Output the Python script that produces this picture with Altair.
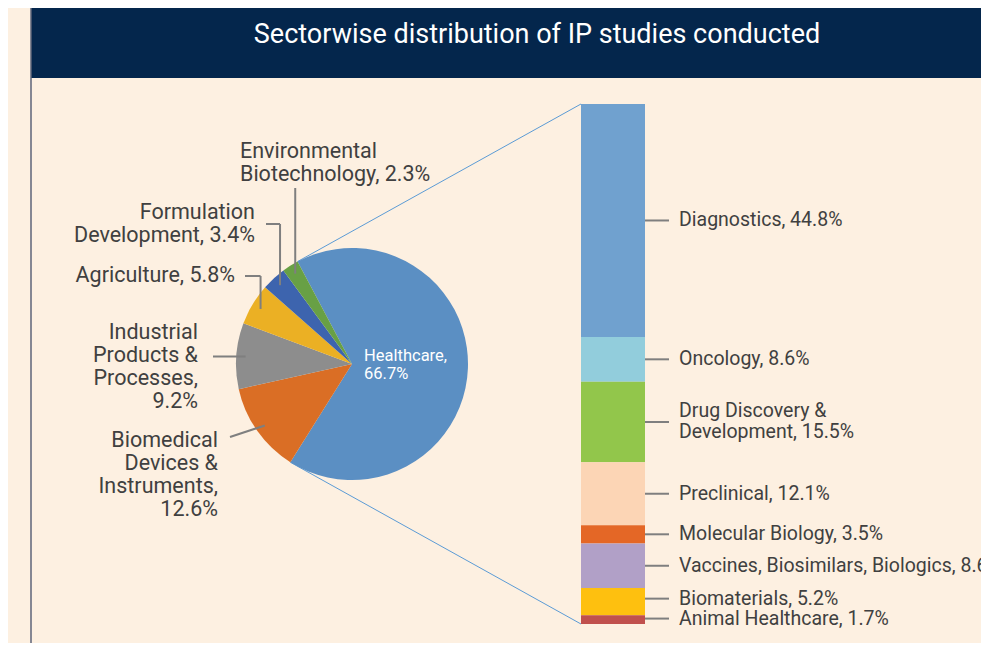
import math
import numpy as np
import pandas as pd
import altair as alt

# ---------------- data ----------------
title_text = "Sectorwise distribution of IP studies conducted"

sector_names = ["Healthcare", "Biomedical\nDevices &\nInstruments", "Industrial\nProducts &\nProcesses",
                "Agriculture", "Formulation\nDevelopment", "Environmental\nBiotechnology"]
sector_values = [66.7, 12.6, 9.2, 5.8, 3.4, 2.3]
sector_colors = ["#5B8FC3", "#DA6E25", "#8D8D8D", "#EBB024", "#3D64AE", "#68A045"]

health_names = ["Diagnostics", "Oncology", "Drug Discovery &\nDevelopment", "Preclinical",
                "Molecular Biology", "Vaccines, Biosimilars, Biologics", "Biomaterials", "Animal Healthcare"]
health_values = [44.8, 8.6, 15.5, 12.1, 3.5, 8.6, 5.2, 1.7]
health_colors = ["#70A1CF", "#92CDDC", "#92C64B", "#FCD5B5", "#E46726", "#B1A0C7", "#FEC00F", "#C0504D"]

# ---------------- layout / style ----------------
W, H = 973, 635
BG = "#FDF0E1"
NAVY = "#04264C"
TXT = "#404040"
LEAD = "#7F7F7F"
FONT = "Roboto"
CX, CY, R = 344, 356, 116
START_DEG = 332.0
BAR_X0, BAR_X1, BAR_TOP, BAR_BOT = 573, 637, 96, 616
PIE_FS, PIE_LH = 21.5, 23
BAR_FS, BAR_LH = 19.5, 21
IN_FS, IN_LH = 16.5, 18

# label separators and anchor layout for pie (index aligned with sector_names)
sep = [",\n", ",\n", ",\n", ", ", ", ", ", "]
lbl_x = [356, 210, 190, 227, 247, 232]
lbl_y = [357, 467, 359, 267.5, 216, 155]
lbl_align = ["left", "right", "right", "right", "right", "left"]
lbl_lh = [IN_LH, PIE_LH, PIE_LH, PIE_LH, PIE_LH, PIE_LH]
# leader geometry (elbow points before reaching the slice point)
elbows = [None, ("pt", 222, 429), ("h", 205), ("hv", 237, 268), ("hv", 258, 216), ("v", 180)]
# small pixel nudges for crowded bar labels
bar_nudge = [0, 0, 0, 0, 0, 0, -3, -1]

px_x = alt.Scale(domain=[0, W], range=[0, W], nice=False, zero=False)
px_y = alt.Scale(domain=[0, H], range=[0, H], nice=False, zero=False)

# ---- pie data ----
vals = np.array(sector_values)
cum = np.concatenate([[0], np.cumsum(vals)])
mid_deg = START_DEG + (cum[:-1] + cum[1:]) / 2 * 3.6
pie_df = pd.DataFrame({"sector": sector_names, "value": sector_values, "order": range(len(sector_names))})
pie_df["label"] = [n + s + f"{v}%" for n, s, v in zip(sector_names, sep, sector_values)]
nlines = pie_df["label"].str.count("\n")
pie_df["lx"] = lbl_x
pie_df["ly"] = np.array(lbl_y) - nlines * np.array(lbl_lh) / 2
pie_df["align"] = lbl_align

r_lead = 0.92 * R
segs = []
for i in range(1, len(sector_names)):
    a = math.radians(mid_deg[i])
    sx, sy = CX + r_lead * math.sin(a), CY - r_lead * math.cos(a)
    e = elbows[i]
    if e[0] == "pt":
        segs.append((e[1], e[2], sx, sy))
    elif e[0] == "h":
        segs.append((e[1], sy, sx, sy))
    elif e[0] == "v":
        segs.append((sx, e[1], sx, sy))
    elif e[0] == "hv":
        segs.append((e[1], e[2], sx, e[2]))
        segs.append((sx, e[2], sx, sy))
lead_df = pd.DataFrame(segs, columns=["x", "y", "x2", "y2"])

# connectors from healthcare slice edges to bar corners
a_start = math.radians(START_DEG)
a_end = math.radians(START_DEG + sector_values[0] * 3.6)
conn_df = pd.DataFrame({
    "x": [CX + R * math.sin(a_start), CX + R * math.sin(a_end)],
    "y": [CY - R * math.cos(a_start), CY - R * math.cos(a_end)],
    "x2": [BAR_X0, BAR_X0],
    "y2": [BAR_TOP, BAR_BOT],
})

# ---- bar data ----
px_per_unit = (BAR_BOT - BAR_TOP) / 100.0
hv = np.array(health_values)
hcum = np.concatenate([[0], np.cumsum(hv)])
bar_df = pd.DataFrame({"name": health_names, "value": health_values, "order": range(len(health_names))})
bar_df["start"] = hcum[:-1]
bar_df["end"] = hcum[1:]
bar_df["mid"] = (hcum[:-1] + hcum[1:]) / 2 + np.array(bar_nudge) / px_per_unit
bar_df["label"] = [f"{n}, {v}%" for n, v in zip(health_names, health_values)]
bar_df["ly"] = bar_df["mid"] - bar_df["label"].str.count("\n") * BAR_LH / 2 / px_per_unit
bar_y = alt.Scale(domain=[0, 100], range=[BAR_TOP, BAR_BOT], nice=False, zero=True)

one = pd.DataFrame({"t": [title_text]})

# ---------------- layers ----------------
title_bar = alt.Chart(one).mark_rect(color=NAVY).encode(
    x=alt.value(23), x2=alt.value(W), y=alt.value(0), y2=alt.value(70))
left_line = alt.Chart(one).mark_rule(color="#5C6579", strokeWidth=1.5).encode(
    x=alt.value(23), y=alt.value(0), y2=alt.value(H))
title = alt.Chart(one).mark_text(font=FONT, fontSize=27, color="white", align="center",
                                 baseline="alphabetic").encode(
    text="t:N", x=alt.value(529), y=alt.value(35))

connectors = alt.Chart(conn_df).mark_rule(color="#5B9BD5", strokeWidth=1).encode(
    x=alt.X("x:Q", scale=px_x, axis=None), x2="x2:Q",
    y=alt.Y("y:Q", scale=px_y, axis=None), y2="y2:Q")

pie = alt.Chart(pie_df).mark_arc(radius=R).encode(
    theta=alt.Theta("value:Q", stack=True,
                    scale=alt.Scale(domain=[0, 100], range=[math.radians(START_DEG),
                                                             math.radians(START_DEG) + 2 * math.pi])),
    color=alt.Color("sector:N", scale=alt.Scale(domain=sector_names, range=sector_colors), legend=None),
    order=alt.Order("order:Q"),
    x=alt.value(CX), y=alt.value(CY))

leaders = alt.Chart(lead_df).mark_rule(color=LEAD, strokeWidth=2).encode(
    x=alt.X("x:Q", scale=px_x, axis=None), x2="x2:Q",
    y=alt.Y("y:Q", scale=px_y, axis=None), y2="y2:Q")

pie_lbl_right = alt.Chart(pie_df).transform_filter("datum.align == 'right'").mark_text(
    font=FONT, fontSize=PIE_FS, color=TXT, align="right", baseline="middle", lineBreak="\n",
    lineHeight=PIE_LH).encode(
    text="label:N", x=alt.X("lx:Q", scale=px_x, axis=None), y=alt.Y("ly:Q", scale=px_y, axis=None))
pie_lbl_left = alt.Chart(pie_df).transform_filter("datum.align == 'left' && datum.order > 0").mark_text(
    font=FONT, fontSize=PIE_FS, color=TXT, align="left", baseline="middle", lineBreak="\n",
    lineHeight=PIE_LH).encode(
    text="label:N", x=alt.X("lx:Q", scale=px_x, axis=None), y=alt.Y("ly:Q", scale=px_y, axis=None))
pie_lbl_in = alt.Chart(pie_df).transform_filter("datum.order == 0").mark_text(
    font=FONT, fontSize=IN_FS, color="white", align="left", baseline="middle", lineBreak="\n",
    lineHeight=IN_LH).encode(
    text="label:N", x=alt.X("lx:Q", scale=px_x, axis=None), y=alt.Y("ly:Q", scale=px_y, axis=None))

bar = alt.Chart(bar_df).mark_rect().encode(
    y=alt.Y("start:Q", scale=bar_y, axis=None), y2="end:Q",
    x=alt.value(BAR_X0), x2=alt.value(BAR_X1),
    color=alt.Color("name:N", scale=alt.Scale(domain=health_names, range=health_colors), legend=None))
bar_leads = alt.Chart(bar_df).mark_rule(color=LEAD, strokeWidth=2).encode(
    y=alt.Y("mid:Q", scale=bar_y, axis=None), x=alt.value(BAR_X1), x2=alt.value(BAR_X1 + 24))
bar_lbls = alt.Chart(bar_df).mark_text(
    font=FONT, fontSize=BAR_FS, color=TXT, align="left", baseline="middle", lineBreak="\n",
    lineHeight=BAR_LH).encode(
    text="label:N", y=alt.Y("ly:Q", scale=bar_y, axis=None),
    x=alt.value(BAR_X1 + 34))

chart = alt.layer(
    title_bar, left_line, title, connectors, pie, leaders,
    pie_lbl_right, pie_lbl_left, pie_lbl_in, bar, bar_leads, bar_lbls
).resolve_scale(
    x="independent", y="independent", color="independent", theta="independent"
).properties(
    width=W, height=H, background=BG, padding=0, autosize="none"
).configure_view(stroke=None)

chart.save("out.html", embed_options={"renderer": "svg", "actions": False})
